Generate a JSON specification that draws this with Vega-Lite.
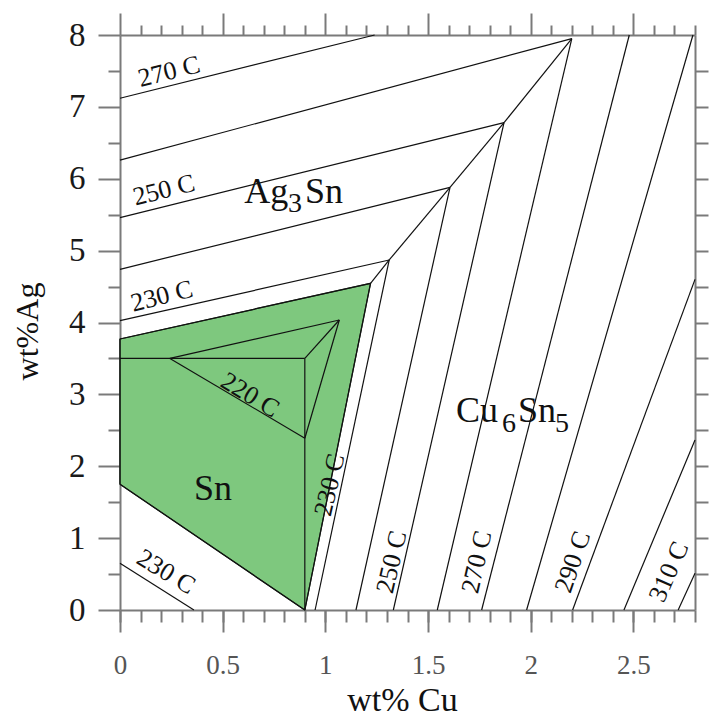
{
  "$schema": "https://vega.github.io/schema/vega-lite/v6.json",
  "width": 575,
  "height": 575,
  "autosize": {"type": "none"},
  "padding": {"left": 120, "top": 35, "right": 14, "bottom": 110},
  "background": "white",
  "config": {
    "view": {"stroke": null},
    "axis": {
      "domainColor": "#7a7a7a", "domainWidth": 2, "tickColor": "#7a7a7a", "tickWidth": 2,
      "grid": false, "labelFont": "Liberation Serif", "titleFont": "Liberation Serif",
      "labelFlush": false, "labelOverlap": false, "titleFontWeight": "normal"
    },
    "text": {"font": "Liberation Serif", "color": "#111"}
  },
  "datasets": {
    "sn_region": [
      {"i": 1, "x": 0, "y": 3.77},
      {"i": 2, "x": 1.22, "y": 4.545},
      {"i": 3, "x": 0.9, "y": 0},
      {"i": 4, "x": 0, "y": 1.75}
    ],
    "segments": [
      {"x1": 0, "y1": 7.12, "x2": 1.24, "y2": 8},
      {"x1": 0, "y1": 6.26, "x2": 2.2, "y2": 7.95},
      {"x1": 0, "y1": 5.46, "x2": 1.87, "y2": 6.78},
      {"x1": 0, "y1": 4.74, "x2": 1.607, "y2": 5.88},
      {"x1": 0, "y1": 4.025, "x2": 1.311, "y2": 4.87},
      {"x1": 1.22, "y1": 4.545, "x2": 1.311, "y2": 4.87},
      {"x1": 1.311, "y1": 4.87, "x2": 1.607, "y2": 5.88},
      {"x1": 1.607, "y1": 5.88, "x2": 1.87, "y2": 6.78},
      {"x1": 1.87, "y1": 6.78, "x2": 2.2, "y2": 7.95},
      {"x1": 0.95, "y1": 0, "x2": 1.311, "y2": 4.87},
      {"x1": 1.149, "y1": 0, "x2": 1.607, "y2": 5.88},
      {"x1": 1.331, "y1": 0, "x2": 1.87, "y2": 6.78},
      {"x1": 1.545, "y1": 0, "x2": 2.2, "y2": 7.95},
      {"x1": 1.761, "y1": 0, "x2": 2.48, "y2": 8},
      {"x1": 1.98, "y1": 0, "x2": 2.79, "y2": 8},
      {"x1": 2.204, "y1": 0, "x2": 2.8, "y2": 4.6},
      {"x1": 2.454, "y1": 0, "x2": 2.8, "y2": 2.365},
      {"x1": 2.718, "y1": 0, "x2": 2.8, "y2": 0.51},
      {"x1": 0, "y1": 3.77, "x2": 1.22, "y2": 4.545},
      {"x1": 1.22, "y1": 4.545, "x2": 0.9, "y2": 0},
      {"x1": 0.9, "y1": 0, "x2": 0, "y2": 1.75},
      {"x1": 0, "y1": 1.75, "x2": 0, "y2": 3.77},
      {"x1": 0, "y1": 3.5, "x2": 0.9, "y2": 3.5},
      {"x1": 0.9, "y1": 3.5, "x2": 0.9, "y2": 0},
      {"x1": 0.243, "y1": 3.5, "x2": 1.068, "y2": 4.035},
      {"x1": 0.243, "y1": 3.5, "x2": 0.9, "y2": 2.39},
      {"x1": 0.9, "y1": 3.5, "x2": 1.068, "y2": 4.035},
      {"x1": 0.9, "y1": 2.39, "x2": 1.068, "y2": 4.035},
      {"x1": 0, "y1": 0.65, "x2": 0.36, "y2": 0}
    ],
    "labels_rise": [
      {"label": "270 C", "x": 0.239, "y": 7.49},
      {"label": "250 C", "x": 0.214, "y": 5.84},
      {"label": "230 C", "x": 0.204, "y": 4.365}
    ],
    "labels_fall": [
      {"label": "220 C", "x": 0.633, "y": 2.99},
      {"label": "230 C", "x": 0.224, "y": 0.53}
    ],
    "labels_steep": [
      {"label": "230 C", "x": 1.022, "y": 1.74},
      {"label": "250 C", "x": 1.324, "y": 0.668},
      {"label": "270 C", "x": 1.738, "y": 0.668}
    ],
    "labels_290": [
      {"label": "290 C", "x": 2.205, "y": 0.668}
    ],
    "labels_310": [
      {"label": "310 C", "x": 2.673, "y": 0.53}
    ],
    "phase_main": [
      {"label": "Ag", "x": 0.605, "y": 5.663},
      {"label": "Sn", "x": 0.901, "y": 5.663},
      {"label": "Cu", "x": 1.636, "y": 2.616},
      {"label": "Sn", "x": 1.938, "y": 2.616},
      {"label": "Sn", "x": 0.36, "y": 1.53}
    ],
    "phase_sub": [
      {"label": "3", "x": 0.818, "y": 5.537},
      {"label": "6", "x": 1.86, "y": 2.477},
      {"label": "5", "x": 2.118, "y": 2.477}
    ]
  },
  "layer": [
    {
      "data": {"name": "sn_region"},
      "mark": {"type": "line", "fill": "#7ec87e", "stroke": "#1a2e1a", "strokeWidth": 1.2, "interpolate": "linear-closed"},
      "encoding": {
        "order": {"field": "i", "type": "quantitative"},
        "x": {
          "field": "x", "type": "quantitative",
          "scale": {"domain": [0, 2.8], "nice": false, "zero": false},
          "axis": {
            "orient": "bottom", "values": [0, 0.5, 1, 1.5, 2, 2.5], "format": "~g",
            "tickSize": 22, "labelFontSize": 27, "labelColor": "#555", "labelBaseline": "alphabetic",
            "labelPadding": 41, "title": "wt% Cu", "titleFontSize": 34, "titleColor": "#111",
            "titleX": 282, "titleY": 100, "titleBaseline": "alphabetic", "titleAlign": "center", "titleAnchor": null
          }
        },
        "y": {
          "field": "y", "type": "quantitative",
          "scale": {"domain": [0, 8], "nice": false, "zero": false},
          "axis": {
            "orient": "left", "values": [0, 1, 2, 3, 4, 5, 6, 7, 8], "format": "~g",
            "tickSize": 22, "labelFontSize": 33, "labelColor": "#1a1a1a", "labelPadding": 13,
            "labelBaseline": "middle",
            "title": "wt%Ag", "titleFontSize": 32, "titleColor": "#111",
            "titleX": -83, "titleY": 296, "titleBaseline": "alphabetic", "titleAlign": "center", "titleAngle": -90, "titleAnchor": null
          }
        }
      }
    },
    {
      "data": {"name": "segments"},
      "mark": {"type": "rule", "color": "#111", "strokeWidth": 1.2},
      "encoding": {
        "x": {
          "field": "x1", "type": "quantitative",
          "axis": {
            "orient": "bottom", "values": [0, 0.1, 0.2, 0.3, 0.4, 0.5, 0.6, 0.7, 0.8, 0.9, 1, 1.1, 1.2, 1.3, 1.4, 1.5, 1.6, 1.7, 1.8, 1.9, 2, 2.1, 2.2, 2.3, 2.4, 2.5, 2.6, 2.7, 2.8],
            "tickSize": 12, "labels": false, "domain": false, "title": null
          }
        },
        "y": {
          "field": "y1", "type": "quantitative",
          "axis": {
            "orient": "left", "values": [0.5, 1.5, 2.5, 3.5, 4.5, 5.5, 6.5, 7.5],
            "tickSize": 12, "labels": false, "domain": false, "title": null
          }
        },
        "x2": {"field": "x2"},
        "y2": {"field": "y2"}
      }
    },
    {
      "data": {"name": "labels_rise"},
      "mark": {"type": "text", "fontSize": 26, "angle": -14, "align": "center", "baseline": "middle"},
      "encoding": {
        "text": {"field": "label"},
        "x": {
          "field": "x", "type": "quantitative",
          "axis": {"orient": "top", "values": [0, 0.5, 1, 1.5, 2, 2.5], "tickSize": 22, "labels": false, "domain": true, "title": null}
        },
        "y": {
          "field": "y", "type": "quantitative",
          "axis": {"orient": "right", "values": [0.5, 1, 1.5, 2, 2.5, 3, 3.5, 4, 4.5, 5, 5.5, 6, 6.5, 7, 7.5], "tickSize": 13, "labels": false, "domain": true, "title": null}
        }
      }
    },
    {
      "data": {"name": "labels_fall"},
      "mark": {"type": "text", "fontSize": 26, "angle": 31, "align": "center", "baseline": "middle"},
      "encoding": {
        "text": {"field": "label"},
        "x": {
          "field": "x", "type": "quantitative",
          "axis": {"orient": "top", "values": [0.1, 0.2, 0.3, 0.4, 0.6, 0.7, 0.8, 0.9, 1.1, 1.2, 1.3, 1.4, 1.6, 1.7, 1.8, 1.9, 2.1, 2.2, 2.3, 2.4, 2.6, 2.7, 2.8], "tickSize": 10, "labels": false, "domain": false, "title": null}
        },
        "y": {"field": "y", "type": "quantitative", "axis": null}
      }
    },
    {
      "data": {"name": "labels_steep"},
      "mark": {"type": "text", "fontSize": 26, "angle": -77, "align": "center", "baseline": "middle"},
      "encoding": {
        "text": {"field": "label"},
        "x": {"field": "x", "type": "quantitative", "axis": null},
        "y": {"field": "y", "type": "quantitative", "axis": null}
      }
    },
    {
      "data": {"name": "labels_290"},
      "mark": {"type": "text", "fontSize": 26, "angle": -71, "align": "center", "baseline": "middle"},
      "encoding": {
        "text": {"field": "label"},
        "x": {"field": "x", "type": "quantitative", "axis": null},
        "y": {"field": "y", "type": "quantitative", "axis": null}
      }
    },
    {
      "data": {"name": "labels_310"},
      "mark": {"type": "text", "fontSize": 26, "angle": -66, "align": "center", "baseline": "middle"},
      "encoding": {
        "text": {"field": "label"},
        "x": {"field": "x", "type": "quantitative", "axis": null},
        "y": {"field": "y", "type": "quantitative", "axis": null}
      }
    },
    {
      "data": {"name": "phase_main"},
      "mark": {"type": "text", "fontSize": 36, "align": "left", "baseline": "alphabetic"},
      "encoding": {
        "text": {"field": "label"},
        "x": {"field": "x", "type": "quantitative", "axis": null},
        "y": {"field": "y", "type": "quantitative", "axis": null}
      }
    },
    {
      "data": {"name": "phase_sub"},
      "mark": {"type": "text", "fontSize": 28, "align": "left", "baseline": "alphabetic"},
      "encoding": {
        "text": {"field": "label"},
        "x": {"field": "x", "type": "quantitative", "axis": null},
        "y": {"field": "y", "type": "quantitative", "axis": null}
      }
    }
  ],
  "resolve": {"axis": {"x": "independent", "y": "independent"}}
}
